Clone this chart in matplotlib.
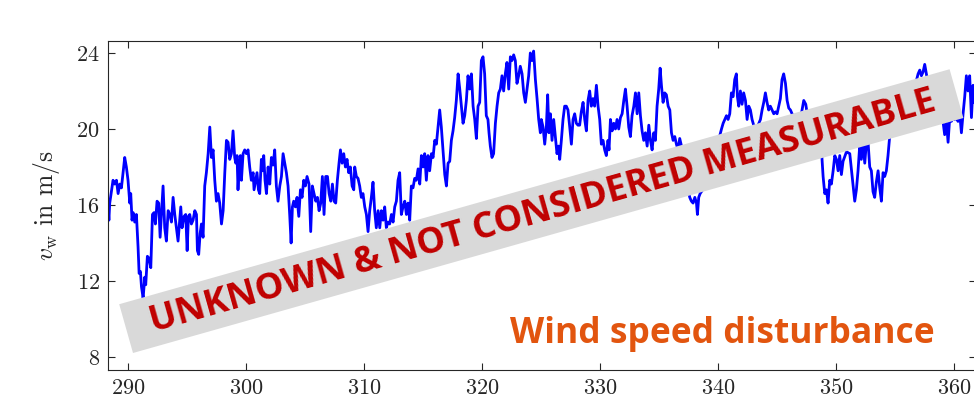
import numpy as np
import matplotlib.pyplot as plt
from matplotlib.patches import Rectangle

# wind speed disturbance (time in s, speed in m/s)
time_s = [
    288.31, 288.38, 288.45, 288.73, 288.87, 289.02, 289.16, 289.30, 289.44, 289.58,
    289.72, 289.86, 290.00, 290.15, 290.23, 290.34, 290.43, 290.57, 290.71, 290.85,
    290.94, 291.05, 291.14, 291.28, 291.42, 291.50, 291.64, 291.78, 291.93, 292.07,
    292.21, 292.32, 292.46, 292.60, 292.72, 292.83, 292.97, 293.11, 293.25, 293.40,
    293.54, 293.68, 293.82, 293.96, 294.10, 294.24, 294.38, 294.47, 294.58, 294.75,
    294.89, 295.01, 295.12, 295.23, 295.37, 295.51, 295.66, 295.80, 295.88, 295.99,
    296.11, 296.22, 296.36, 296.50, 296.64, 296.79, 296.93, 297.07, 297.21, 297.35,
    297.49, 297.63, 297.77, 297.92, 298.06, 298.20, 298.34, 298.48, 298.62, 298.76,
    298.90, 299.04, 299.13, 299.24, 299.32, 299.41, 299.52, 299.61, 299.75, 299.89,
    300.03, 300.17, 300.31, 300.45, 300.60, 300.68, 300.82, 300.93, 301.05, 301.16,
    301.30, 301.39, 301.50, 301.61, 301.73, 301.87, 302.01, 302.15, 302.29, 302.43,
    302.57, 302.71, 302.86, 303.00, 303.14, 303.28, 303.42, 303.56, 303.70, 303.82,
    303.93, 304.04, 304.18, 304.32, 304.47, 304.61, 304.75, 304.89, 305.03, 305.17,
    305.34, 305.48, 305.62, 305.76, 305.91, 306.05, 306.19, 306.33, 306.47, 306.61,
    306.75, 306.90, 307.04, 307.18, 307.32, 307.46, 307.60, 307.74, 307.88, 308.00,
    308.14, 308.28, 308.42, 308.56, 308.70, 308.84, 308.99, 309.13, 309.21, 309.35,
    309.49, 309.63, 309.77, 309.91, 310.06, 310.20, 310.34, 310.48, 310.62, 310.76,
    310.90, 311.04, 311.19, 311.33, 311.47, 311.61, 311.75, 311.89, 312.03, 312.17,
    312.32, 312.46, 312.60, 312.74, 312.88, 313.02, 313.16, 313.30, 313.45, 313.59,
    313.73, 313.87, 314.01, 314.15, 314.29, 314.43, 314.58, 314.72, 314.86, 315.00,
    315.14, 315.28, 315.42, 315.56, 315.71, 315.85, 315.99, 316.13, 316.27, 316.41,
    316.55, 316.69, 316.84, 316.98, 317.12, 317.26, 317.40, 317.54, 317.68, 317.82,
    317.97, 318.11, 318.25, 318.39, 318.53, 318.67, 318.81, 318.95, 319.10, 319.24,
    319.38, 319.52, 319.66, 319.80, 319.94, 320.08, 320.22, 320.36, 320.50, 320.59,
    320.70, 320.84, 320.98, 321.13, 321.27, 321.41, 321.55, 321.69, 321.83, 321.97,
    322.11, 322.26, 322.40, 322.54, 322.68, 322.82, 322.96, 323.10, 323.24, 323.39,
    323.53, 323.67, 323.81, 323.95, 324.09, 324.23, 324.37, 324.52, 324.66, 324.80,
    324.94, 325.02, 325.17, 325.31, 325.45, 325.56, 325.67, 325.79, 325.93, 326.07,
    326.21, 326.35, 326.49, 326.58, 326.72, 326.86, 327.00, 327.14, 327.28, 327.43,
    327.57, 327.71, 327.85, 327.99, 328.13, 328.27, 328.41, 328.56, 328.70, 328.84,
    328.98, 329.12, 329.26, 329.40, 329.54, 329.69, 329.83, 329.97, 330.11, 330.25,
    330.39, 330.53, 330.67, 330.76, 330.88, 331.02, 331.16, 331.30, 331.44, 331.58,
    331.73, 331.87, 332.01, 332.15, 332.29, 332.43, 332.57, 332.71, 332.86, 333.00,
    333.14, 333.28, 333.42, 333.56, 333.70, 333.84, 333.99, 334.13, 334.27, 334.41,
    334.55, 334.69, 334.83, 334.97, 335.09, 335.20, 335.34, 335.48, 335.62, 335.77,
    335.91, 336.05, 336.19, 336.33, 336.47, 336.61, 336.75, 336.90, 337.04, 337.18,
    337.32, 337.46, 337.60, 337.74, 337.88, 338.03, 338.17, 338.25, 338.36, 338.48,
    338.59, 338.87, 339.16, 339.44, 339.72, 340.00, 340.29, 340.43, 340.57, 340.71,
    340.85, 340.99, 341.13, 341.27, 341.41, 341.55, 341.64, 341.75, 341.89, 342.03,
    342.17, 342.32, 342.46, 342.60, 342.74, 342.88, 343.11, 343.39, 343.59, 343.73,
    343.87, 344.01, 344.15, 344.29, 344.43, 344.58, 344.72, 344.86, 345.00, 345.14,
    345.28, 345.42, 345.56, 345.71, 345.85, 345.99, 346.13, 346.27, 346.50, 346.78,
    347.06, 347.26, 347.43, 347.63, 347.91, 348.19, 348.47, 348.76, 348.90, 349.04,
    349.18, 349.32, 349.46, 349.60, 349.75, 349.89, 350.03, 350.17, 350.31, 350.45,
    350.59, 350.88, 351.16, 351.44, 351.58, 351.72, 351.86, 352.00, 352.14, 352.28,
    352.43, 352.57, 352.71, 352.85, 352.99, 353.13, 353.27, 353.41, 353.56, 353.70,
    353.84, 353.98, 354.12, 354.26, 354.40, 354.54, 354.97, 355.39, 355.82, 356.24,
    356.66, 356.95, 357.09, 357.23, 357.37, 357.51, 357.65, 357.93, 358.36, 358.78,
    359.06, 359.20, 359.35, 359.49, 359.63, 359.77, 359.91, 360.05, 360.19, 360.33,
    360.48, 360.62, 360.76, 360.90, 361.04, 361.18, 361.32, 361.47, 361.61, 361.69,
]
wind_speed = [
    15.9, 15.2, 16.1, 17.3, 17.1, 17.3, 16.6, 17.1, 16.9, 17.7,
    18.5, 18.0, 17.3, 16.1, 16.6, 15.2, 15.6, 15.1, 15.5, 13.8,
    12.4, 12.5, 11.7, 11.1, 12.2, 11.8, 13.3, 13.2, 12.7, 15.5,
    15.6, 15.0, 16.2, 16.1, 14.3, 15.5, 17.0, 14.8, 14.1, 15.7,
    15.5, 15.1, 16.4, 15.5, 14.8, 14.1, 15.2, 15.9, 14.8, 15.4,
    15.5, 13.6, 15.4, 15.5, 15.0, 15.2, 15.7, 15.5, 13.6, 13.4,
    14.5, 15.0, 14.3, 17.0, 17.7, 18.7, 20.1, 18.5, 18.9, 17.3,
    16.2, 16.6, 16.1, 15.0, 15.7, 17.7, 19.4, 19.3, 18.4, 18.7,
    19.9, 18.5, 18.2, 18.6, 16.8, 18.0, 18.6, 17.3, 18.7, 18.9,
    18.7, 18.9, 18.0, 17.3, 17.7, 16.8, 17.3, 17.7, 16.8, 16.6,
    18.4, 17.8, 18.6, 17.3, 16.6, 18.0, 17.1, 18.5, 18.1, 18.9,
    17.0, 16.2, 17.0, 17.5, 18.7, 18.2, 17.7, 17.0, 15.5, 14.0,
    15.9, 16.2, 15.9, 16.4, 15.4, 16.8, 16.4, 17.3, 17.0, 17.5,
    17.1, 14.6, 17.0, 16.6, 16.2, 16.4, 15.7, 16.1, 17.5, 15.5,
    17.5, 17.5, 16.6, 16.2, 17.1, 16.2, 16.1, 17.3, 18.2, 18.9,
    18.2, 18.7, 18.0, 18.4, 17.7, 18.0, 17.0, 16.8, 18.0, 17.5,
    17.4, 17.0, 16.4, 16.6, 15.9, 15.5, 14.6, 15.7, 16.4, 17.2,
    15.7, 14.8, 15.7, 14.8, 15.7, 15.2, 15.9, 14.8, 15.1, 15.0,
    15.5, 15.1, 15.9, 16.2, 17.3, 17.7, 15.5, 15.9, 16.2, 15.5,
    16.1, 15.2, 17.0, 16.9, 17.4, 17.3, 17.9, 17.1, 18.6, 18.0,
    18.7, 17.3, 18.6, 17.8, 18.7, 18.5, 19.4, 19.2, 20.1, 21.0,
    20.1, 18.9, 17.6, 17.0, 18.2, 18.3, 19.4, 19.9, 20.6, 21.5,
    22.9, 22.1, 21.2, 20.3, 20.7, 21.5, 22.8, 22.1, 22.9, 21.2,
    20.5, 19.5, 21.2, 21.4, 23.6, 23.8, 22.9, 20.7, 20.5, 19.8,
    19.1, 18.5, 18.7, 20.3, 21.2, 21.9, 22.1, 22.8, 22.0, 22.9,
    23.5, 22.1, 23.8, 23.6, 23.9, 23.6, 22.4, 22.8, 23.3, 22.9,
    21.9, 21.4, 22.1, 22.8, 24.0, 23.6, 24.1, 22.6, 21.6, 20.5,
    19.8, 20.5, 20.1, 19.2, 20.1, 21.8, 19.8, 20.8, 19.4, 20.5,
    19.6, 18.7, 19.1, 18.4, 19.4, 20.5, 21.2, 21.2, 21.0, 20.1,
    19.2, 20.5, 20.8, 20.3, 20.2, 20.2, 20.9, 21.4, 20.5, 19.9,
    21.5, 22.0, 21.2, 21.6, 21.2, 22.3, 21.2, 20.5, 19.2, 19.4,
    18.9, 18.6, 19.4, 18.9, 20.5, 19.9, 20.3, 20.0, 20.5, 20.0,
    20.6, 20.8, 21.5, 22.1, 21.2, 20.1, 19.6, 20.7, 21.2, 21.9,
    20.8, 21.9, 20.7, 19.9, 19.4, 19.8, 19.1, 20.2, 19.4, 18.9,
    19.8, 19.4, 21.2, 22.1, 23.2, 22.3, 21.4, 21.9, 21.8, 21.2,
    21.0, 19.8, 19.4, 19.6, 19.2, 18.9, 19.5, 19.1, 18.5, 17.8,
    17.2, 16.8, 16.4, 16.2, 16.1, 16.4, 16.1, 15.5, 16.4, 16.6,
    16.7, 17.0, 17.5, 18.2, 18.8, 19.3, 20.0, 20.3, 20.5, 20.7,
    20.5, 20.8, 21.9, 21.7, 22.6, 22.9, 21.7, 21.2, 22.0, 21.3,
    21.9, 21.5, 20.5, 21.2, 21.0, 20.5, 20.0, 20.2, 20.5, 21.0,
    21.4, 21.9, 21.4, 21.0, 21.2, 21.0, 20.8, 20.9, 20.8, 21.2,
    21.6, 22.6, 22.9, 22.4, 21.5, 21.1, 21.0, 20.8, 20.5, 20.0,
    20.8, 21.5, 21.3, 20.5, 20.0, 19.5, 19.2, 18.9, 17.5, 16.6,
    16.8, 16.1, 17.3, 17.1, 17.8, 18.6, 18.4, 17.8, 18.6, 17.6,
    18.3, 18.8, 18.7, 17.0, 16.2, 16.8, 17.8, 19.1, 18.4, 19.3,
    18.2, 19.3, 19.3, 18.0, 17.8, 16.7, 16.4, 17.2, 17.8, 16.9,
    16.2, 17.7, 17.5, 17.8, 18.6, 19.6, 20.5, 21.2, 20.8, 21.6,
    22.2, 22.9, 23.1, 22.8, 23.0, 23.4, 22.9, 22.0, 21.2, 20.8,
    20.4, 19.7, 20.4, 19.3, 20.6, 20.4, 20.6, 20.5, 20.6, 20.4,
    20.8, 19.8, 20.8, 21.7, 22.8, 22.0, 22.8, 20.6, 22.3, 21.4,
]

x_ticks = [290, 300, 310, 320, 330, 340, 350, 360]
y_ticks = [8, 12, 16, 20, 24]

banner_text = 'UNKNOWN & NOT CONSIDERED MEASURABLE'
note_text = 'Wind speed disturbance'

plt.rcParams['font.family'] = 'serif'
plt.rcParams['font.serif'] = ['cmr10']
plt.rcParams['mathtext.fontset'] = 'cm'
plt.rcParams['axes.formatter.use_mathtext'] = True

fig = plt.figure(figsize=(9.74, 4.04), dpi=100)
ax = fig.add_axes([0.1109, 0.0842, 0.8912, 0.8144])

ax.plot(time_s, wind_speed, color='#0000ff', lw=2.0)

ax.set_xlim(288.305, 361.86)
ax.set_ylim(7.316, 24.632)
ax.set_xticks(x_ticks)
ax.set_yticks(y_ticks)
ax.tick_params(direction='in', top=True, right=True, length=5, width=0.8,
               labelsize=16, color='#262626', labelcolor='#262626', pad=6)
for s in ax.spines.values():
    s.set_color('#262626')
    s.set_linewidth(0.8)

ax.set_ylabel(r'$v_\mathrm{w}$ in m/s', fontsize=18.5, color='#262626')
ax.yaxis.set_label_coords(-0.053, 0.5)

# grey banner drawn on top of the plot (inches from lower-left of figure)
banner = Rectangle((1.33, 0.51), 8.63, 0.507, angle=15.8,
                   transform=fig.dpi_scale_trans, facecolor='#d9d9d9',
                   edgecolor='none', zorder=5)
fig.add_artist(banner)
fig.text(5.43, 1.92, banner_text, transform=fig.dpi_scale_trans,
         rotation=15.8, rotation_mode='anchor', ha='center', va='center',
         family='Open Sans', fontweight='bold', fontsize=26,
         color='#c00000', zorder=6)

ax.text(0.9527, 0.082, note_text, transform=ax.transAxes, ha='right',
        va='baseline', family='Open Sans', fontweight='bold', fontsize=25.5,
        color='#e2550f')

fig.savefig('out.png', dpi=100)
